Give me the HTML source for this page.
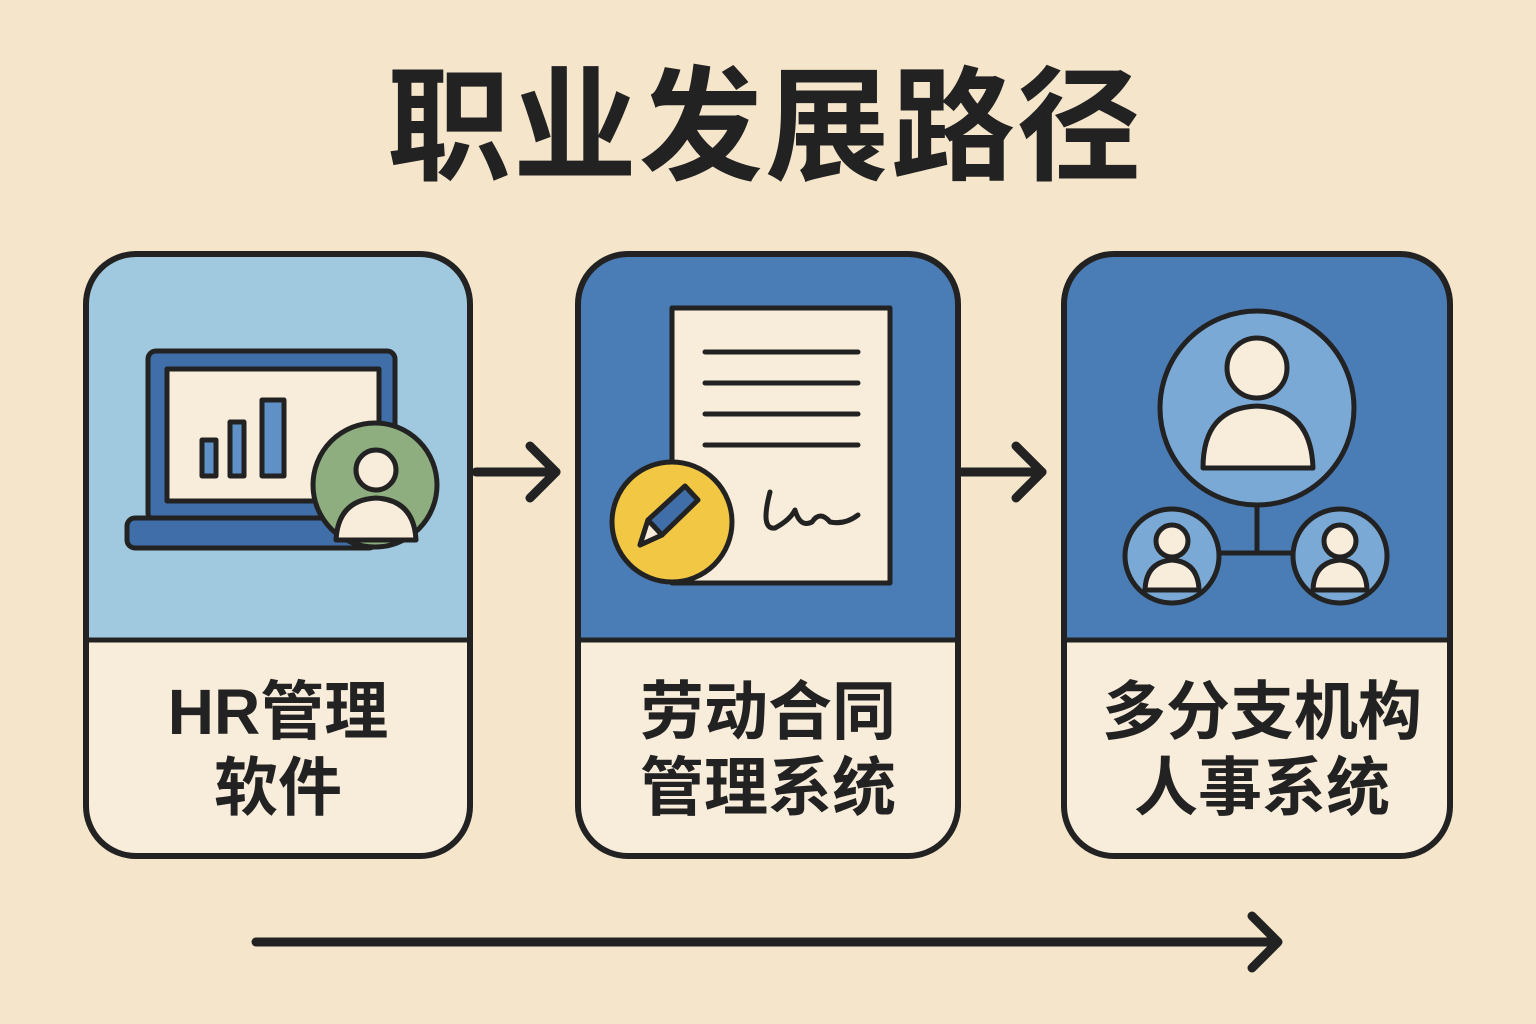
<!DOCTYPE html>
<html><head><meta charset="utf-8"><style>
html,body{margin:0;padding:0;background:#f4e5cb;}
svg{display:block}
text{font-family:"Liberation Sans","Noto Sans CJK SC",sans-serif;font-weight:bold;fill:#222;}
</style></head><body>
<svg width="1536" height="1024" viewBox="0 0 1536 1024" xmlns="http://www.w3.org/2000/svg">
<rect width="1536" height="1024" fill="#f4e5cb"/>
<text x="765" y="170" font-size="124" text-anchor="middle" letter-spacing="2">职业发展路径</text>

<defs>
<clipPath id="c1"><rect x="86" y="254" width="384" height="602" rx="50"/></clipPath>
<clipPath id="c2"><rect x="578" y="254" width="380" height="602" rx="50"/></clipPath>
<clipPath id="c3"><rect x="1064" y="254" width="386" height="602" rx="50"/></clipPath>
</defs>

<!-- card 1 -->
<g clip-path="url(#c1)"><rect x="80" y="250" width="400" height="390" fill="#a0c9e0"/><rect x="80" y="640" width="400" height="220" fill="#f8ecdb"/></g>
<line x1="86" y1="640" x2="470" y2="640" stroke="#222" stroke-width="5"/>
<rect x="86" y="254" width="384" height="602" rx="50" fill="none" stroke="#222" stroke-width="6"/>
<!-- card 2 -->
<g clip-path="url(#c2)"><rect x="570" y="250" width="400" height="390" fill="#4a7cb5"/><rect x="570" y="640" width="400" height="220" fill="#f8ecdb"/></g>
<line x1="578" y1="640" x2="958" y2="640" stroke="#222" stroke-width="5"/>
<rect x="578" y="254" width="380" height="602" rx="50" fill="none" stroke="#222" stroke-width="6"/>
<!-- card 3 -->
<g clip-path="url(#c3)"><rect x="1060" y="250" width="400" height="390" fill="#4a7cb5"/><rect x="1060" y="640" width="400" height="220" fill="#f8ecdb"/></g>
<line x1="1064" y1="640" x2="1450" y2="640" stroke="#222" stroke-width="5"/>
<rect x="1064" y="254" width="386" height="602" rx="50" fill="none" stroke="#222" stroke-width="6"/>

<!-- arrows -->
<g stroke="#222" stroke-width="9" fill="none" stroke-linecap="round" stroke-linejoin="round">
<line x1="476" y1="472" x2="556" y2="472"/><polyline points="530,446 556,472 530,498"/>
<line x1="962" y1="472" x2="1042" y2="472"/><polyline points="1016,446 1042,472 1016,498"/>
<line x1="256" y1="942" x2="1276" y2="942"/><polyline points="1252,916 1278,942 1252,968"/>
</g>

<!-- laptop icon -->
<g stroke="#222" stroke-width="5" stroke-linejoin="round">
<rect x="148" y="351" width="247" height="170" rx="8" fill="#3f6ea8"/>
<rect x="167" y="369" width="212" height="132" fill="#f8ecdb"/>
<rect x="127" y="518" width="250" height="30" rx="8" fill="#3f6ea8"/>
<rect x="202" y="440" width="14" height="36" fill="#5f90c6"/>
<rect x="230" y="422" width="14" height="54" fill="#5f90c6"/>
<rect x="262" y="400" width="22" height="76" fill="#5f90c6"/>
<circle cx="375" cy="485" r="62" fill="#8fae7f"/>
<circle cx="376" cy="470" r="20" fill="#f8ecdb"/>
<path d="M336 540 Q338 500 376 498 Q414 500 416 540 Z" fill="#f8ecdb"/>
</g>
<text x="278" y="734" font-size="64" text-anchor="middle">HR管理</text>
<text x="278" y="810" font-size="64" text-anchor="middle">软件</text>

<!-- document icon -->
<g stroke="#222" stroke-width="5" stroke-linejoin="round" stroke-linecap="round">
<rect x="672" y="308" width="218" height="275" fill="#f8ecdb"/>
<line x1="705" y1="352" x2="858" y2="352"/><line x1="705" y1="383" x2="858" y2="383"/>
<line x1="705" y1="414" x2="858" y2="414"/><line x1="705" y1="445" x2="858" y2="445"/>
<path d="M770 492 Q760 530 775 528 Q790 520 795 510 Q800 528 812 522 Q820 510 830 522 Q845 525 858 515" fill="none"/>
<circle cx="672" cy="522" r="60" fill="#f2c744"/>
<path d="M640 545 L648 520 L685 486 L698 500 L662 535 Z" fill="#3f6ea8"/>
<path d="M640 545 L648 520 L662 535 Z" fill="#f8ecdb"/>
</g>
<text x="768" y="734" font-size="64" text-anchor="middle">劳动合同</text>
<text x="768" y="810" font-size="64" text-anchor="middle">管理系统</text>

<!-- org icon -->
<g stroke="#222" stroke-width="5" stroke-linejoin="round">
<line x1="1257" y1="470" x2="1257" y2="553"/><line x1="1215" y1="553" x2="1298" y2="553"/>
<circle cx="1257" cy="408" r="97" fill="#7aa9d6"/>
<circle cx="1257" cy="368" r="30" fill="#f8ecdb"/>
<path d="M1203 468 Q1203 408 1257 406 Q1311 408 1313 468 Z" fill="#f8ecdb"/>
<circle cx="1172" cy="556" r="47" fill="#7aa9d6"/>
<circle cx="1172" cy="541" r="16" fill="#f8ecdb"/>
<path d="M1145 590 Q1146 562 1172 560 Q1198 562 1199 590 Z" fill="#f8ecdb"/>
<circle cx="1340" cy="556" r="47" fill="#7aa9d6"/>
<circle cx="1340" cy="541" r="16" fill="#f8ecdb"/>
<path d="M1313 590 Q1314 562 1340 560 Q1366 562 1367 590 Z" fill="#f8ecdb"/>
</g>
<text x="1262" y="734" font-size="64" text-anchor="middle">多分支机构</text>
<text x="1262" y="810" font-size="64" text-anchor="middle">人事系统</text>
</svg>
</body></html>
